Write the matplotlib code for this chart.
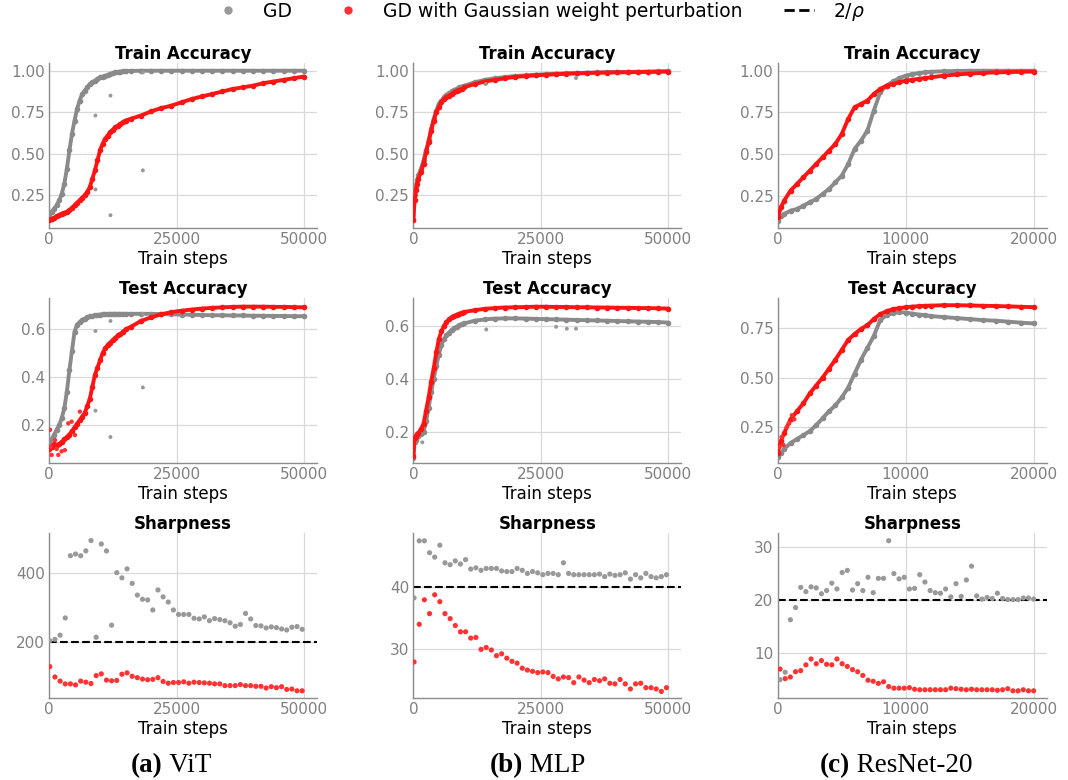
import numpy as np
import matplotlib
matplotlib.use('Agg')
import matplotlib.pyplot as plt
from matplotlib.lines import Line2D

## Step grids where the accuracy curves were read
vit_steps = list(range(0, 15001, 500)) + list(range(16000, 50001, 2000))
mlp_steps = [0, 250, 500, 750] + list(range(1000, 10001, 500)) + list(range(12000, 50001, 2000))
res_steps = [0, 250] + list(range(500, 12001, 500)) + list(range(13000, 20001, 1000))

## ViT
vit_train_gd = [0.14, 0.15, 0.17, 0.19, 0.22, 0.26, 0.32, 0.41, 0.52, 0.62, 0.70, 0.77, 0.82, 0.86, 0.88, 0.90,
                0.92, 0.93, 0.94, 0.95, 0.96, 0.965, 0.97, 0.975, 0.98, 0.985, 0.99, 0.993, 0.995, 0.997, 0.998,
                0.999, 1.0, 1.0, 1.0, 1.0, 1.0, 1.0, 1.0, 1.0, 1.0, 1.0, 1.0, 1.0, 1.0, 1.0, 1.0, 1.0, 1.0]
vit_train_pert = [0.10, 0.11, 0.115, 0.125, 0.13, 0.14, 0.145, 0.15, 0.16, 0.175, 0.19, 0.205, 0.22, 0.235, 0.25,
                  0.27, 0.30, 0.35, 0.40, 0.46, 0.52, 0.56, 0.59, 0.61, 0.63, 0.645, 0.66, 0.67, 0.68, 0.69, 0.70,
                  0.71, 0.73, 0.755, 0.775, 0.79, 0.81, 0.83, 0.845, 0.86, 0.875, 0.89, 0.90, 0.91, 0.925, 0.935,
                  0.945, 0.955, 0.965]
vit_test_gd = [0.13, 0.14, 0.16, 0.18, 0.20, 0.23, 0.27, 0.34, 0.43, 0.51, 0.59, 0.62, 0.63, 0.64, 0.645, 0.65,
               0.655, 0.655, 0.66, 0.66, 0.662, 0.663, 0.664, 0.664, 0.665, 0.665, 0.665, 0.665, 0.665, 0.665, 0.665,
               0.665, 0.665, 0.665, 0.664, 0.663, 0.662, 0.661, 0.66, 0.659, 0.659, 0.658, 0.658, 0.657, 0.657,
               0.656, 0.656, 0.655, 0.655]
vit_test_pert = [0.10, 0.11, 0.12, 0.115, 0.12, 0.13, 0.14, 0.15, 0.16, 0.175, 0.19, 0.205, 0.22, 0.235, 0.25,
                 0.28, 0.31, 0.36, 0.41, 0.44, 0.47, 0.50, 0.52, 0.535, 0.545, 0.555, 0.565, 0.575, 0.58, 0.59, 0.60,
                 0.61, 0.635, 0.65, 0.663, 0.672, 0.678, 0.683, 0.687, 0.69, 0.692, 0.694, 0.695, 0.695, 0.695,
                 0.694, 0.694, 0.693, 0.692]
vit_out_steps = [9100, 9100, 12050, 12050, 18400, 18400]
vit_out_train = [0.73, 0.285, 0.85, 0.13, 0.40, 0.99]
vit_out_test = [0.593, 0.26, 0.635, 0.15, 0.357, 0.665]
vit_noise_steps = [200, 330, 520, 1170, 1500, 1820, 2470, 3100, 3780, 4430, 5080, 6050]
vit_noise_test = [0.18, 0.11, 0.075, 0.137, 0.10, 0.075, 0.09, 0.095, 0.207, 0.214, 0.158, 0.256]

## MLP
mlp_train_gd = [0.10, 0.25, 0.30, 0.34, 0.37, 0.41, 0.46, 0.52, 0.58, 0.65, 0.71, 0.76, 0.80, 0.82, 0.84, 0.855,
                0.865, 0.875, 0.885, 0.89, 0.90, 0.905, 0.91, 0.93, 0.945, 0.955, 0.962, 0.968, 0.972, 0.976,
                0.979, 0.982, 0.984, 0.986, 0.988, 0.99, 0.991, 0.992, 0.993, 0.994, 0.995, 0.996, 0.997]
mlp_train_pert = [0.10, 0.22, 0.28, 0.32, 0.35, 0.39, 0.44, 0.51, 0.57, 0.64, 0.70, 0.75, 0.78, 0.81, 0.83, 0.84,
                  0.85, 0.86, 0.87, 0.88, 0.885, 0.89, 0.90, 0.92, 0.935, 0.945, 0.955, 0.963, 0.968, 0.972,
                  0.976, 0.979, 0.982, 0.984, 0.986, 0.988, 0.989, 0.99, 0.991, 0.992, 0.993, 0.994, 0.995]
mlp_test_gd = [0.10, 0.16, 0.17, 0.18, 0.185, 0.19, 0.20, 0.24, 0.29, 0.35, 0.40, 0.45, 0.49, 0.53, 0.55, 0.565,
               0.575, 0.585, 0.592, 0.598, 0.603, 0.607, 0.61, 0.62, 0.625, 0.628, 0.629, 0.629, 0.628, 0.627,
               0.626, 0.625, 0.624, 0.623, 0.622, 0.621, 0.62, 0.619, 0.618, 0.617, 0.616, 0.615, 0.613]
mlp_test_pert = [0.11, 0.175, 0.185, 0.19, 0.195, 0.21, 0.23, 0.28, 0.33, 0.39, 0.44, 0.50, 0.55, 0.58, 0.60,
                 0.615, 0.625, 0.633, 0.638, 0.643, 0.647, 0.65, 0.653, 0.66, 0.665, 0.668, 0.67, 0.671, 0.672,
                 0.673, 0.673, 0.672, 0.672, 0.671, 0.671, 0.67, 0.67, 0.669, 0.669, 0.668, 0.668, 0.667, 0.666]
mlp_out_train_steps = [14200, 31900]
mlp_out_train = [0.92, 0.956]
mlp_out_test_steps = [1760, 14300, 28000, 30100, 31900]
mlp_out_test = [0.16, 0.587, 0.597, 0.59, 0.59]

## ResNet-20
res_train_gd = [0.10, 0.13, 0.14, 0.16, 0.17, 0.19, 0.21, 0.23, 0.26, 0.29, 0.33, 0.37, 0.44, 0.53, 0.58, 0.64,
                0.76, 0.87, 0.91, 0.935, 0.955, 0.97, 0.978, 0.985, 0.99, 0.993, 0.996, 0.998, 0.999, 0.999,
                0.999, 0.999, 0.999, 0.999]
res_train_pert = [0.12, 0.18, 0.22, 0.28, 0.32, 0.36, 0.40, 0.44, 0.48, 0.52, 0.56, 0.62, 0.71, 0.78, 0.80, 0.82,
                  0.86, 0.89, 0.91, 0.92, 0.93, 0.94, 0.945, 0.95, 0.955, 0.96, 0.97, 0.977, 0.982, 0.986, 0.989,
                  0.991, 0.993, 0.994]
res_test_gd = [0.10, 0.12, 0.14, 0.17, 0.19, 0.21, 0.23, 0.26, 0.295, 0.33, 0.36, 0.40, 0.45, 0.52, 0.59, 0.65,
               0.71, 0.79, 0.815, 0.825, 0.83, 0.828, 0.823, 0.818, 0.815, 0.81, 0.805, 0.80, 0.795, 0.79, 0.787,
               0.782, 0.777, 0.773]
res_test_pert = [0.12, 0.18, 0.22, 0.29, 0.33, 0.37, 0.42, 0.46, 0.50, 0.545, 0.59, 0.64, 0.69, 0.72, 0.745,
                 0.765, 0.795, 0.82, 0.835, 0.845, 0.85, 0.855, 0.858, 0.86, 0.862, 0.863, 0.865, 0.865, 0.864,
                 0.862, 0.861, 0.859, 0.857, 0.855]
res_noise_steps = [150, 300, 450, 700, 900, 1100, 1300]
res_noise_test = [0.15, 0.20, 0.16, 0.25, 0.27, 0.31, 0.29]

## Sharpness (measured every ~1000 steps, ~400 for ResNet)
sharp_steps_50k = list(range(150, 50000, 1010))
sharp_steps_20k = list(range(180, 20000, 404))
vit_sharp_gd = [205, 209, 221, 271, 451, 456, 451, 465, 495, 215, 485, 465, 250, 402, 387, 413, 371, 337, 325, 323,
                294, 352, 332, 317, 294, 281, 281, 281, 270, 268, 274, 263, 269, 266, 263, 257, 247, 252, 284, 268,
                249, 248, 242, 245, 243, 239, 236, 244, 246, 238]
vit_sharp_pert = [130, 100, 88, 80, 80, 77, 88, 85, 81, 104, 109, 91, 89, 90, 108, 112, 102, 98, 94, 92, 93, 98, 87,
                  82, 84, 84, 86, 82, 85, 84, 83, 82, 80, 80, 75, 75, 75, 78, 75, 75, 73, 73, 68, 72, 69, 72, 64,
                  65, 60, 60]
mlp_sharp_gd = [38.2, 47.3, 47.3, 45.4, 44.7, 46.6, 43.8, 43.5, 44.1, 43.6, 44.3, 42.8, 43.0, 42.6, 42.9, 42.9, 42.9,
                42.5, 42.4, 42.4, 42.9, 42.6, 42.1, 42.4, 42.2, 41.9, 42.1, 42.1, 41.9, 43.8, 42.1, 41.9, 41.9, 41.9,
                41.9, 41.9, 42.0, 41.6, 42.0, 41.8, 41.9, 42.2, 41.2, 41.9, 41.4, 42.1, 41.6, 41.4, 41.6, 41.9]
mlp_sharp_pert = [28.0, 34.0, 37.9, 35.7, 38.7, 37.6, 35.7, 34.9, 33.8, 32.8, 32.8, 31.8, 31.9, 30.0, 30.3, 29.9,
                  29.0, 29.3, 28.6, 28.1, 27.8, 27.0, 26.7, 26.5, 26.3, 26.4, 26.3, 25.7, 25.3, 25.6, 25.5, 24.7,
                  25.6, 25.1, 24.7, 25.2, 25.0, 25.3, 24.6, 24.5, 25.2, 24.5, 23.7, 24.5, 24.6, 23.9, 23.9, 23.7,
                  23.3, 23.9]
res_sharp_gd = [5.0, 6.4, 16.3, 18.6, 22.4, 21.6, 22.5, 22.3, 21.2, 21.8, 23.2, 22.1, 25.2, 25.6, 21.9, 23.1, 21.8,
                24.3, 21.4, 24.1, 24.1, 31.2, 25.0, 24.0, 24.3, 22.1, 22.2, 24.8, 23.4, 21.8, 21.4, 21.3, 22.1, 20.6,
                23.1, 20.7, 23.8, 26.4, 20.8, 20.2, 20.5, 20.3, 21.3, 20.3, 20.1, 20.1, 20.1, 20.4, 20.4, 20.2]
res_sharp_pert = [7.0, 5.2, 5.5, 6.5, 6.7, 7.8, 8.9, 8.0, 8.6, 7.9, 7.8, 8.9, 8.0, 7.5, 6.9, 6.5, 5.8, 4.9, 4.7,
                  4.3, 4.6, 3.7, 3.4, 3.4, 3.4, 3.5, 3.2, 3.1, 3.1, 3.1, 3.1, 3.1, 3.1, 3.4, 3.3, 3.2, 3.1, 3.2,
                  3.1, 3.1, 3.1, 3.1, 3.0, 3.1, 3.3, 2.9, 2.9, 3.1, 2.9, 2.9]
two_over_rho = [200, 40, 20]

models = ['ViT', 'MLP', 'ResNet-20']
letters = ['(a)', '(b)', '(c)']

GD_LINE = '#8a8a8a'
PERT_LINE = '#ff1414'
GD_DOT = '#999999'
PERT_DOT = '#ff3333'

fig = plt.figure(figsize=(10.68, 7.8), dpi=100)

col_left = [0.0459, 0.3870, 0.7282]
col_width = [0.2507, 0.2507, 0.2519]
row_bottom = [0.7081, 0.4068, 0.1055]
row_height = 0.2108

axes = [[fig.add_axes([col_left[c], row_bottom[r], col_width[c], row_height]) for c in range(3)] for r in range(3)]


def style(ax, title, xmax, xticks, ylim, yticks):
    ax.set_title(title, fontsize=12, fontweight='bold', pad=1.5)
    ax.set_xlabel('Train steps', fontsize=12, labelpad=2)
    ax.set_xlim(0, xmax * 1.05)
    ax.set_ylim(ylim)
    ax.set_xticks(xticks)
    ax.set_yticks(yticks)
    ax.grid(True, color='#d9d9d9', lw=0.9)
    ax.set_axisbelow(True)
    for s in ['top', 'right']:
        ax.spines[s].set_visible(False)
    for s in ['left', 'bottom']:
        ax.spines[s].set_color('#8c8c8c')
        ax.spines[s].set_linewidth(1.0)
    ax.tick_params(length=0, labelsize=11, labelcolor='#808080', pad=3)


def curves(ax, steps, gd, pert):
    ax.plot(steps, gd, color=GD_LINE, lw=2.8, marker='o', ms=3, solid_capstyle='round', zorder=2)
    ax.plot(steps, pert, color=PERT_LINE, lw=2.8, marker='o', ms=3, solid_capstyle='round', zorder=3)


## Row 1: train accuracy
curves(axes[0][0], vit_steps, vit_train_gd, vit_train_pert)
axes[0][0].scatter(vit_out_steps, vit_out_train, s=8, color=GD_DOT, edgecolors='none', zorder=4)
curves(axes[0][1], mlp_steps, mlp_train_gd, mlp_train_pert)
axes[0][1].scatter(mlp_out_train_steps, mlp_out_train, s=8, color=GD_DOT, edgecolors='none', zorder=4)
curves(axes[0][2], res_steps, res_train_gd, res_train_pert)

## Row 2: test accuracy
curves(axes[1][0], vit_steps, vit_test_gd, vit_test_pert)
axes[1][0].scatter(vit_out_steps, vit_out_test, s=8, color=GD_DOT, edgecolors='none', zorder=4)
axes[1][0].scatter(vit_noise_steps, vit_noise_test, s=10, color=PERT_DOT, edgecolors='none', zorder=4)
curves(axes[1][1], mlp_steps, mlp_test_gd, mlp_test_pert)
axes[1][1].scatter(mlp_out_test_steps, mlp_out_test, s=8, color=GD_DOT, edgecolors='none', zorder=4)
curves(axes[1][2], res_steps, res_test_gd, res_test_pert)
axes[1][2].scatter(res_noise_steps, res_noise_test, s=10, color=PERT_DOT, edgecolors='none', zorder=4)

## Row 3: sharpness
sharp = [(sharp_steps_50k, vit_sharp_gd, vit_sharp_pert),
         (sharp_steps_50k, mlp_sharp_gd, mlp_sharp_pert),
         (sharp_steps_20k, res_sharp_gd, res_sharp_pert)]
for c, (st, gd, pert) in enumerate(sharp):
    ax = axes[2][c]
    ax.axhline(two_over_rho[c], color='black', ls='--', lw=1.5, zorder=2)
    ax.scatter(st, gd, s=14, color=GD_DOT, edgecolors='none', zorder=3)
    ax.scatter(st, pert, s=14, color=PERT_DOT, edgecolors='none', zorder=3)

## Axes styling
xmaxes = [50000, 50000, 20000]
xtick_sets = [[0, 25000, 50000], [0, 25000, 50000], [0, 10000, 20000]]
ylims = [[(0.055, 1.045), (0.055, 1.045), (0.058, 1.044)],
         [(0.0425, 0.730), (0.083, 0.705), (0.071, 0.90)],
         [(40, 516), (22.3, 48.5), (1.6, 32.6)]]
ytick_sets = [[[0.25, 0.5, 0.75, 1.0]] * 3,
              [[0.2, 0.4, 0.6], [0.2, 0.4, 0.6], [0.25, 0.5, 0.75]],
              [[200, 400], [30, 40], [10, 20, 30]]]
titles = ['Train Accuracy', 'Test Accuracy', 'Sharpness']
for r in range(3):
    for c in range(3):
        style(axes[r][c], titles[r], xmaxes[c], xtick_sets[c], ylims[r][c], ytick_sets[r][c])
for c in range(3):
    axes[0][c].yaxis.set_major_formatter(matplotlib.ticker.FormatStrFormatter('%.2f'))
axes[1][2].yaxis.set_major_formatter(matplotlib.ticker.FormatStrFormatter('%.2f'))

## Legend
handles = [Line2D([], [], ls='none', marker='o', ms=5, color=GD_DOT),
           Line2D([], [], ls='none', marker='o', ms=5, color=PERT_DOT),
           Line2D([], [], color='black', ls='--', lw=2)]
fig.legend(handles, ['GD', 'GD with Gaussian weight perturbation', r'$2/\rho$'], loc='center',
           bbox_to_anchor=(0.505, 0.985), ncol=3, frameon=False, fontsize=13.5,
           handlelength=1.6, handletextpad=1.05, columnspacing=2.2)

## Sub-captions: bold letter followed by the model name
cap_x = [131 / 1068, 490 / 1068, 820 / 1068]
cap_y = 0.0103
renderer = fig.canvas.get_renderer()
for c in range(3):
    t = fig.text(cap_x[c], cap_y, letters[c], fontsize=19.5, fontweight='bold',
                 family='Liberation Serif', va='baseline', ha='left')
    x_end = t.get_window_extent(renderer=renderer).x1 / fig.bbox.width
    fig.text(x_end, cap_y, ' ' + models[c], fontsize=19.5, family='Liberation Serif',
             va='baseline', ha='left')

fig.savefig('out.png', dpi=100)
